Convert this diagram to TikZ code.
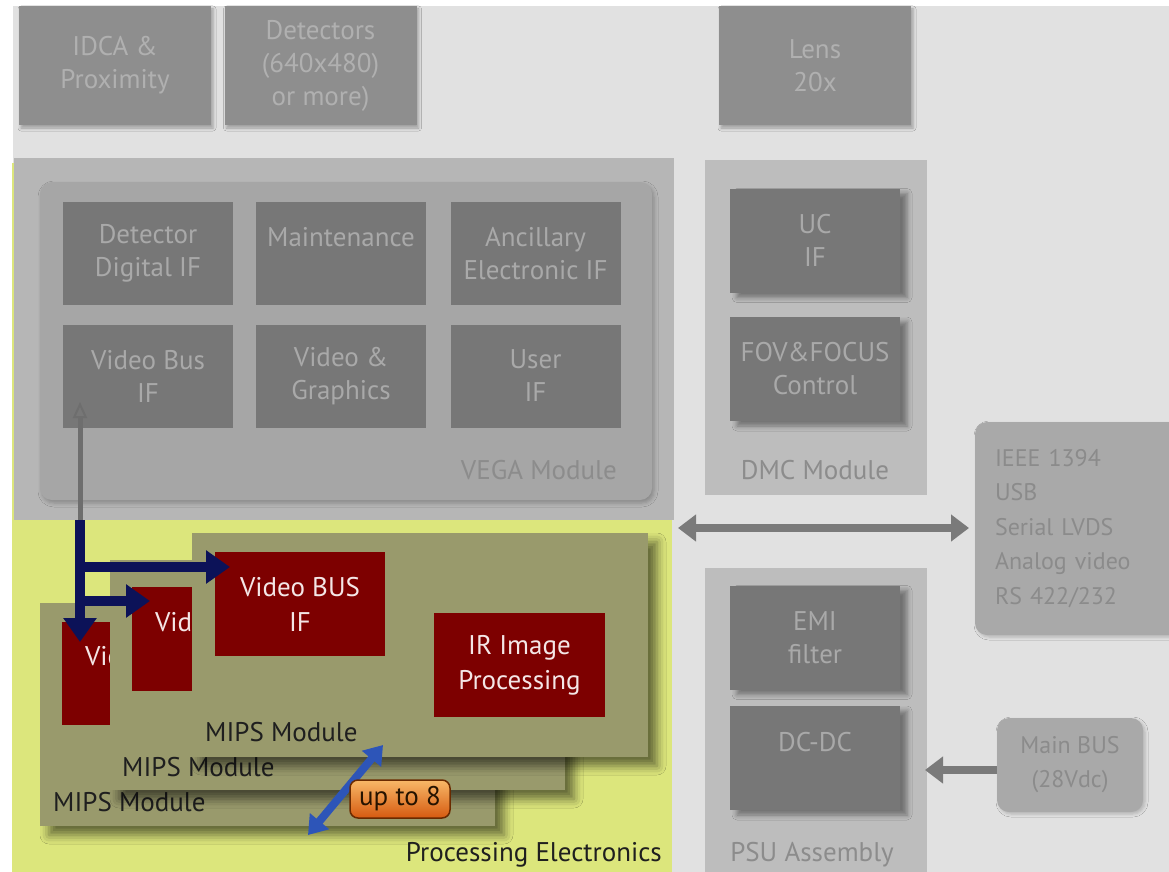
\documentclass[tikz,border=0pt]{standalone}
\usepackage{fontspec}
\setmainfont{PT Sans}
\usetikzlibrary{arrows.meta,shadows.blur}
\definecolor{bggray}{HTML}{E1E1E1}
\definecolor{topgray}{HTML}{8E8E8E}
\definecolor{toptext}{HTML}{B0B0B0}
\definecolor{vegaout}{HTML}{B6B6B6}
\definecolor{vegain}{HTML}{A6A6A6}
\definecolor{darkbox}{HTML}{777777}
\definecolor{darktext}{HTML}{A9A9A9}
\definecolor{sidepanel}{HTML}{BDBDBD}
\definecolor{paneltext}{HTML}{8C8C8C}
\definecolor{rightbox}{HTML}{A9A9A9}
\definecolor{righttext}{HTML}{8B8B8B}
\definecolor{peyellow}{HTML}{DCE67C}
\definecolor{olive}{HTML}{999A6C}
\definecolor{darkred}{HTML}{7D0000}
\definecolor{redtext}{HTML}{F4E6E6}
\definecolor{navy}{HTML}{0C1258}
\definecolor{bluearr}{HTML}{2D55B8}
\definecolor{grayarr}{HTML}{7A7A7A}
\definecolor{orangetop}{HTML}{F8B868}
\definecolor{orangebot}{HTML}{D65A10}
\definecolor{orangeline}{HTML}{6A2A00}
\begin{document}
\begin{tikzpicture}[x=1pt,y=-1pt,
  every node/.style={inner sep=0pt,align=center},
  graytxt/.style={font=\fontsize{27}{33}\selectfont},
  bigtxt/.style={font=\fontsize{27}{35}\selectfont},
  topbox/.style={fill=topgray,text=toptext,graytxt,minimum width=192,minimum height=119,
    blur shadow={shadow xshift=2pt,shadow yshift=-3pt,shadow blur radius=3pt,shadow opacity=30}},
  vegabox/.style={fill=darkbox,text=darktext,graytxt,minimum width=170,minimum height=103},
  sidebox/.style={fill=darkbox,text=darktext,graytxt,minimum width=170,minimum height=104,
    blur shadow={shadow xshift=7pt,shadow yshift=-5pt,shadow blur radius=5pt,shadow opacity=40}},
  panellabel/.style={text=paneltext,graytxt},
  rightbx/.style={fill=rightbox,text=righttext,rounded corners=12,
    blur shadow={shadow xshift=2pt,shadow yshift=-2pt,shadow blur radius=3pt,shadow opacity=20}},
  mipsbox/.style={fill=olive,minimum width=455,
    blur shadow={shadow xshift=9pt,shadow yshift=-9pt,shadow blur radius=9pt,shadow opacity=55}},
  redbox/.style={fill=darkred,text=redtext,bigtxt},
  mipslabel/.style={text=black!88,bigtxt,anchor=west},
  navyarrow/.style={draw=navy,line width=10pt,-{Triangle[width=32pt,length=24pt]}},
  grayarrow/.style={draw=grayarr,line width=8pt},
]
\useasboundingbox (0,0) rectangle (1169,872);
\fill[white] (0,0) rectangle (1169,872);
\fill[bggray] (13,6) rectangle (1169,872);

% top row
\node[topbox] (idca) at (115,65.5) {IDCA \&\\Proximity};
\node[topbox] (det) at (320.5,65.5) {Detectors\\(640x480)\\or more)};
\node[topbox] (lens) at (815,65.5) {Lens\\20x};

% processing electronics background
\node[fill=peyellow,minimum width=660,minimum height=709] (pe) at (342,517.5) {};

% VEGA module
\node[fill=vegaout,minimum width=660,minimum height=362] (vegaouter) at (344,339) {};
\node[fill=vegain,rounded corners=12,minimum width=612,minimum height=318,
  blur shadow={shadow xshift=2pt,shadow yshift=-3pt,shadow blur radius=4pt,shadow opacity=25}] (vega) at (346,341) {};
\node[vegabox] (ddif) at (148,253.5) {Detector\\Digital IF};
\node[vegabox] (maint) at (341,253.5) {Maintenance\\\phantom{X}};
\node[vegabox] (ancil) at (535.5,253.5) {Ancillary\\Electronic IF};
\node[vegabox] (vbif) at (148,376) {Video Bus\\IF};
\node[vegabox] (vgfx) at (341,376) {Video \&\\Graphics};
\node[vegabox] (uif) at (535.5,376) {User\\IF};
\node[panellabel,anchor=east] (vegalabel) at (617,470) {VEGA Module};

% DMC module
\node[fill=sidepanel,minimum width=222,minimum height=335] (dmc) at (816,327.5) {};
\node[sidebox] (ucif) at (815,240.5) {UC\\IF};
\node[sidebox] (fov) at (815,369) {FOV\&FOCUS\\Control};
\node[panellabel] (dmclabel) at (815,470) {DMC Module};

% PSU assembly
\node[fill=sidepanel,minimum width=222,minimum height=310] (psu) at (816,723) {};
\node[sidebox] (emi) at (815,637.5) {EMI\\filter};
\node[sidebox] (dcdc) at (815,758) {DC-DC\\\phantom{X}};
\node[panellabel] (psulabel) at (812,855) {PSU Assembly};

% right boxes
\node[rightbx,minimum width=210,minimum height=213,text width=170,align=left,
  font=\fontsize{24}{34.5}\selectfont] (ieee) at (1080,528.5)
  {IEEE 1394\\USB\\Serial LVDS\\Analog video\\RS 422/232};
\node[rightbx,minimum width=146,minimum height=94,font=\fontsize{24}{34}\selectfont] (mainbus) at (1070,765) {Main BUS\\(28Vdc)};

% gray arrows
\coordinate (dblL) at (678,528);
\coordinate (dblR) at (969,528);
\draw[grayarrow,{Triangle[width=26pt,length=18pt]}-{Triangle[width=26pt,length=18pt]}] (dblL) -- (dblR);
\coordinate (mbstart) at (997,770);
\coordinate (psuin) at (925,770);
\draw[grayarrow,-{Triangle[width=26pt,length=18pt]}] (mbstart) -- (psuin);

% gray connector to Video Bus IF
\coordinate (junction) at (80,521);
\coordinate (vbiftip) at (80,402);
\draw[draw=grayarr!90!black,line width=5pt,-{Triangle[open,width=14pt,length=16pt,line width=2pt]}] (junction) -- (vbiftip);

% MIPS modules (back to front)
\node[mipsbox,minimum height=223] (mips3) at (267.5,714.5) {};
\node[redbox,minimum width=166,minimum height=103] (vbus3) at (145,673.5) {Video BUS\\IF};
\node[mipslabel] (mips3label) at (53,802) {MIPS Module};

\node[mipsbox,minimum height=230] (mips2) at (337.5,675) {};
\node[redbox,minimum width=166,minimum height=104] (vbus2) at (215,639) {Video BUS\\IF};
\node[mipslabel] (mips2label) at (122,767) {MIPS Module};

\node[mipsbox,minimum width=456,minimum height=224] (mips1) at (420,645) {};
\node[redbox,minimum width=170,minimum height=104] (vbus1) at (300,604) {Video BUS\\IF};
\node[redbox,minimum width=171,minimum height=104] (irip) at (519.5,665) {IR Image\\Processing};
\node[mipslabel] (mips1label) at (205,732) {MIPS Module};

% navy arrows
\coordinate (navytop) at (80,520);
\coordinate (branch1) at (80,567);
\coordinate (branch2) at (80,601);
\coordinate (tip3) at (80,642);
\coordinate (tip1) at (230,567);
\coordinate (tip2) at (150,601);
\draw[navyarrow] (navytop) -- (tip3);
\draw[navyarrow] ([xshift=-5pt]branch1) -- (tip1);
\draw[navyarrow] ([xshift=-5pt]branch2) -- (tip2);

% blue double arrow and badge
\coordinate (blueA) at (383,745);
\coordinate (blueB) at (308,835);
\draw[draw=bluearr,line width=8pt,{Triangle[width=24pt,length=18pt]}-{Triangle[width=24pt,length=18pt]}] (blueA) -- (blueB);
\node[rounded corners=8,top color=orangetop,bottom color=orangebot,draw=orangeline,line width=1.5pt,
  minimum width=100,minimum height=38,text=black!85!orange,font=\fontsize{27}{30}\selectfont] (upto) at (400,799) {up to 8};

\node[text=black!88,bigtxt,anchor=east] (pelabel) at (662,855) {Processing Electronics};
\end{tikzpicture}
\end{document}
